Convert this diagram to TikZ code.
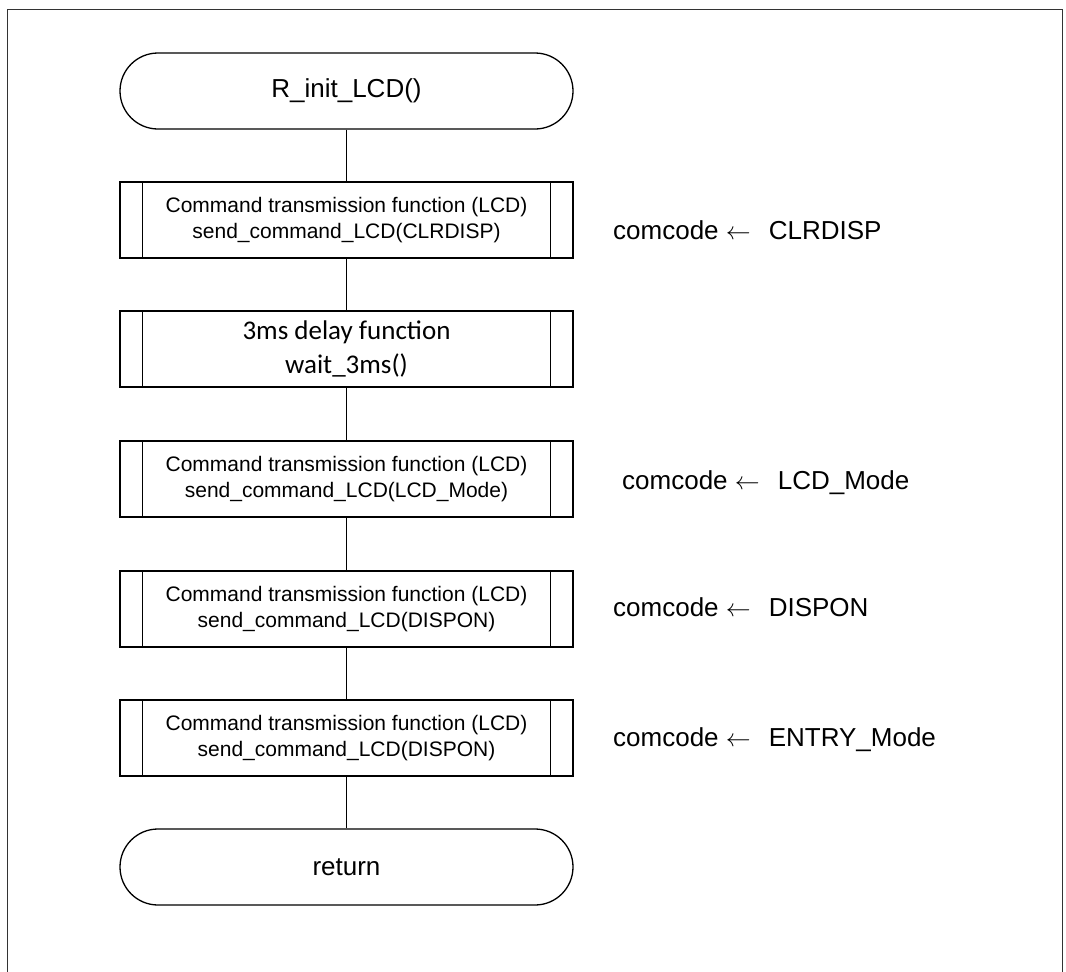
\documentclass[tikz,border=0pt]{standalone}
\usepackage{fontspec}
\setmainfont{Liberation Sans}
\newfontfamily\calibfont{Carlito}
\newcommand{\asgn}{\ $\leftarrow$\hspace{18pt}}
\begin{document}
\begin{tikzpicture}[x=1pt,y=-1pt,
  term/.style={draw, line width=1.3pt, rectangle, rounded corners=38pt,
    minimum width=453pt, minimum height=76pt, inner sep=0pt,
    font=\fontsize{26}{31}\selectfont},
  proc/.style={draw, line width=1.3pt, rectangle, minimum width=453pt,
    minimum height=76pt, inner sep=0pt, align=center,
    font=\fontsize{21}{26}\selectfont},
  lbl/.style={anchor=base west, inner sep=0pt, font=\fontsize{26}{31}\selectfont},
  conn/.style={line width=1.3pt},
  frame/.style={line width=1pt, black!80}]
\useasboundingbox (0,0) rectangle (1066,972);
\draw[frame] (7,972) -- (7,9) -- (1062,9) -- (1062,972);

\node[term] (t1) at (346.5,91) {R\_init\_LCD()};
\node[proc] (b1) at (346.5,220) {Command transmission function (LCD)\\send\_command\_LCD(CLRDISP)};
\node[proc, font=\calibfont\fontsize{27}{34}\selectfont] (b2) at (346.5,349) {3ms delay function\\wait\_3ms()};
\node[proc] (b3) at (346.5,479) {Command transmission function (LCD)\\send\_command\_LCD(LCD\_Mode)};
\node[proc] (b4) at (346.5,609) {Command transmission function (LCD)\\send\_command\_LCD(DISPON)};
\node[proc] (b5) at (346.5,738) {Command transmission function (LCD)\\send\_command\_LCD(DISPON)};
\node[term] (t2) at (346.5,867) {return};

\foreach \n in {b1,b2,b3,b4,b5} {
  \draw[conn] ([xshift=23pt]\n.north west) -- ([xshift=23pt]\n.south west);
  \draw[conn] ([xshift=-23pt]\n.north east) -- ([xshift=-23pt]\n.south east);
}

\draw[conn] (t1) -- (b1);
\draw[conn] (b1) -- (b2);
\draw[conn] (b2) -- (b3);
\draw[conn] (b3) -- (b4);
\draw[conn] (b4) -- (b5);
\draw[conn] (b5) -- (t2);

\node[lbl] (l1) at (613,239.3) {comcode\asgn CLRDISP};
\node[lbl] (l3) at (622,489.3) {comcode\asgn LCD\_Mode};
\node[lbl] (l4) at (613,616.3) {comcode\asgn DISPON};
\node[lbl] (l5) at (613,746.3) {comcode\asgn ENTRY\_Mode};
\end{tikzpicture}
\end{document}
